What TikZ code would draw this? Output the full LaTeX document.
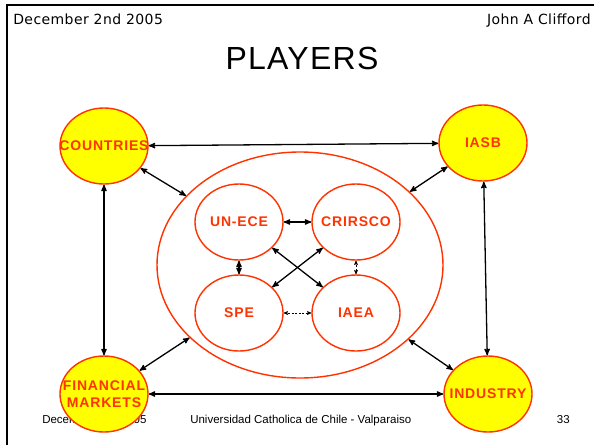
\documentclass[tikz,border=0pt]{standalone}
\usepackage{fontspec}
\setmainfont{Liberation Sans}
\newfontfamily\headfont{DejaVu Sans}[LetterSpace=3]
\newfontfamily\titlefont{Liberation Sans}[LetterSpace=4]
\newfontfamily\tagfont{Liberation Sans}[LetterSpace=6]
\usetikzlibrary{arrows,shapes.geometric}
\definecolor{rim}{RGB}{255,51,0}
\definecolor{sun}{RGB}{255,255,0}

\begin{document}
\begin{tikzpicture}[x=1pt,y=-1pt,>=stealth',semithick]
  \tikzstyle{plain}=[inner sep=0pt,text=black]
  \tikzstyle{tag}=[inner sep=0pt,text=rim,font=\tagfont\bfseries\fontsize{14}{17}\selectfont]
  \tikzstyle{player}=[ellipse,draw=rim,fill=sun,line width=1.4pt,inner sep=0pt,
                      minimum width=88pt,minimum height=76pt]
  \tikzstyle{body}=[player,fill=white]
  \tikzstyle{link}=[<->,line width=1.3pt,black]
  \tikzstyle{weak}=[<->,line width=0.6pt,black,dash pattern=on 2pt off 1.5pt]

  \useasboundingbox (0,0) rectangle (594,445);
  \draw[line width=2pt] (7,445) -- (7,5) -- (594,5);

  % header and footer
  \node[plain,anchor=base west,font=\headfont\fontsize{14}{16}\selectfont] (date) at (13,24.3) {December 2nd 2005};
  \node[plain,anchor=base east,font=\headfont\fontsize{14}{16}\selectfont] (author) at (591,24.3) {John A Clifford};
  \node[plain,anchor=base,font=\titlefont\fontsize{32}{38}\selectfont] (title) at (302,69) {PLAYERS};
  \node[plain,anchor=base west,font=\fontsize{11.5}{14}\selectfont] (footdate) at (42,423.5) {December 2nd 2005};
  \node[plain,anchor=base west,font=\fontsize{11.5}{14}\selectfont] (school) at (190,423.5) {Universidad Catholica de Chile - Valparaiso};
  \node[plain,anchor=base east,font=\fontsize{11.5}{14}\selectfont] (page) at (570,423.5) {33};

  % inner group
  \node[body,minimum width=286pt,minimum height=226pt] (group) at (300,265) {};
  \node[body,label={[tag]center:UN-ECE}]  (unece)   at (239,222) {};
  \node[body,label={[tag]center:CRIRSCO}] (crirsco) at (356,222) {};
  \node[body,label={[tag]center:SPE}]     (spe)     at (239,313) {};
  \node[body,label={[tag]center:IAEA}]    (iaea)    at (356,313) {};

  % outer players
  \node[player,label={[tag]center:COUNTRIES}] (countries) at (104,146) {};
  \node[player,label={[tag]center:IASB}]      (iasb)      at (483,143) {};
  \node[player,label={[tag,align=center]center:FINANCIAL\\MARKETS}] (finmkts) at (104,394) {};
  \node[player,label={[tag]center:INDUSTRY}]  (industry)  at (488,394) {};

  \path (countries) edge[link] (iasb)
        (finmkts)   edge[link] (industry)
        (countries) edge[link] (finmkts)
        (iasb)      edge[link] (industry)
        (countries) edge[link] (group)
        (iasb)      edge[link] (group)
        (finmkts)   edge[link] (group)
        (industry)  edge[link] (group)
        (unece)     edge[link] (crirsco)
        (unece)     edge[link] (spe)
        (unece)     edge[link] (iaea)
        (crirsco)   edge[link] (spe)
        (crirsco)   edge[weak] (iaea)
        (spe)       edge[weak] (iaea);
\end{tikzpicture}
\end{document}
